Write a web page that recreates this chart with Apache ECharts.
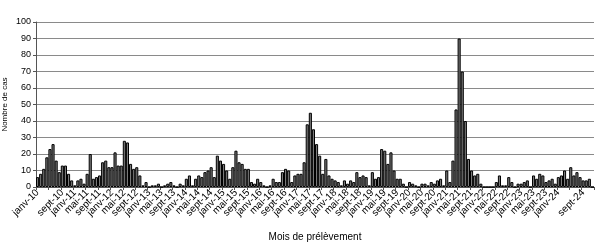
<!DOCTYPE html>
<html><head><meta charset="utf-8">
<script src="https://cdn.jsdelivr.net/npm/echarts@6/dist/echarts.min.js"></script>
<style>html,body{margin:0;padding:0;background:#fff}#c{width:605px;height:250px}</style>
</head><body><div id="c"></div>
<script>
// Month names (French abbreviations) and years
const monthNames = ['janv','févr','mars','avr','mai','juin','juil','août','sept','oct','nov','déc'];
const yearSuffixes = ['10','11','12','13','14','15','16','17','18','19','20','21','22','23','24'];

// Monthly case counts
const cases2010 = [6, 8, 11, 18, 23, 26, 16, 9, 13, 13, 8, 4];
const cases2011 = [1, 4, 5, 2, 8, 20, 5, 6, 7, 15, 16, 12];
const cases2012 = [12, 21, 13, 13, 28, 27, 14, 11, 12, 7, 1, 3];
const cases2013 = [0, 1, 1, 2, 0, 1, 2, 3, 1, 0, 2, 1];
const cases2014 = [5, 7, 1, 5, 7, 6, 9, 10, 12, 6, 19, 16];
const cases2015 = [14, 10, 5, 12, 22, 15, 14, 11, 11, 3, 2, 5];
const cases2016 = [3, 1, 0, 1, 5, 3, 3, 9, 11, 10, 3, 7];
const cases2017 = [8, 8, 15, 38, 45, 35, 26, 19, 8, 17, 7, 5];
const cases2018 = [4, 3, 1, 4, 2, 4, 3, 9, 6, 7, 6, 1];
const cases2019 = [9, 5, 6, 23, 22, 14, 21, 10, 5, 5, 2, 0];
const cases2020 = [3, 2, 1, 0, 2, 2, 1, 3, 2, 4, 5, 1];
const cases2021 = [10, 3, 16, 47, 90, 70, 40, 17, 10, 7, 8, 2];
const cases2022 = [0, 0, 0, 0, 3, 7, 1, 1, 6, 3, 0, 2];
const cases2023 = [2, 3, 4, 0, 7, 5, 8, 7, 3, 4, 5, 2];
const cases2024 = [6, 7, 10, 5, 12, 7, 9, 6, 4, 4, 5, 0];

// Axis tick values
const yTicks = [0, 10, 20, 30, 40, 50, 60, 70, 80, 90, 100];
const labelEvery = 4; // one category label every 4 months (janv, mai, sept)

const yearlyCases = [cases2010, cases2011, cases2012, cases2013, cases2014, cases2015, cases2016,
  cases2017, cases2018, cases2019, cases2020, cases2021, cases2022, cases2023, cases2024];

const categories = [];
yearSuffixes.forEach(y => monthNames.forEach(m => categories.push(m + '-' + y)));
const values = [].concat(...yearlyCases);

const font = 'Arial, "Liberation Sans", sans-serif';
const chart = echarts.init(document.getElementById('c'), null, {renderer: 'canvas'});
chart.setOption({
  animation: false,
  grid: {left: 36, right: 11, top: 22, bottom: 63, containLabel: false, outerBoundsMode: 'none'},
  xAxis: {
    type: 'category',
    data: categories,
    name: 'Mois de prélèvement',
    nameLocation: 'middle',
    nameGap: 45,
    nameMoveOverlap: false,
    nameTextStyle: {fontFamily: font, fontSize: 10, color: '#000'},
    axisLine: {show: true, lineStyle: {color: '#555', width: 1}},
    axisTick: {show: true, interval: (i) => i % labelEvery === 0, length: 3, lineStyle: {color: '#555'}},
    axisLabel: {
      interval: (i) => i % labelEvery === 0,
      showMinLabel: true, showMaxLabel: true, hideOverlap: false,
      rotate: 45, margin: 4, fontFamily: font, fontSize: 10, color: '#000'
    },
    splitLine: {show: false}
  },
  yAxis: {
    type: 'value',
    min: yTicks[0],
    max: yTicks[yTicks.length - 1],
    interval: yTicks[1] - yTicks[0],
    name: 'Nombre de cas',
    nameLocation: 'middle',
    nameGap: 27,
    nameRotate: 90,
    nameMoveOverlap: false,
    nameTextStyle: {fontFamily: font, fontSize: 8, color: '#000'},
    axisLine: {show: true, lineStyle: {color: '#555', width: 1}},
    axisTick: {show: true, length: 3, lineStyle: {color: '#555'}},
    axisLabel: {margin: 5, showMinLabel: true, showMaxLabel: true, fontFamily: font, fontSize: 9, color: '#000'},
    splitLine: {show: true, lineStyle: {color: '#8a8a8a', width: 1}}
  },
  series: [{
    type: 'bar',
    data: values,
    barCategoryGap: '0%',
    itemStyle: {color: '#7a7a7a', borderColor: '#000', borderWidth: 1}
  }]
});
</script>
</body></html>
